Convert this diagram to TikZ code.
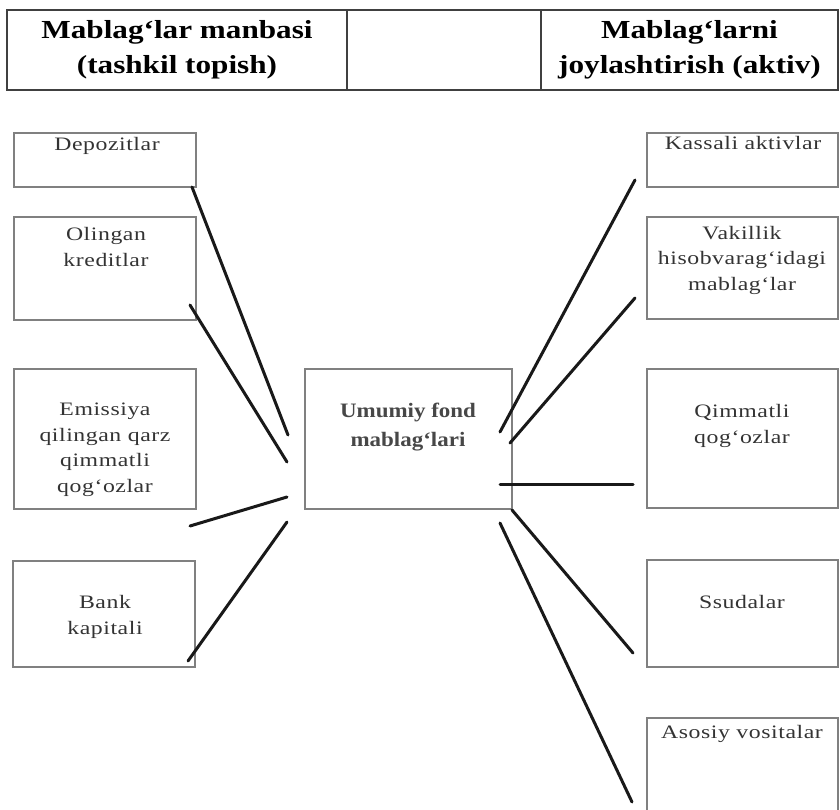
\documentclass[tikz,border=0pt]{standalone}
\usepackage{fontspec}
\usetikzlibrary{calc}
\setmainfont{Liberation Serif}
\newfontfamily\boxfont{Liberation Serif}[FakeStretch=1.25,LetterSpace=3]
\newfontfamily\hdfont{Liberation Serif}[FakeStretch=1.2]
\newfontfamily\midfont{Liberation Serif}[FakeStretch=1.12]

\begin{document}
\begin{tikzpicture}[x=1pt,y=-1pt,
  hcell/.style={draw=black!75, line width=1.5pt, inner sep=0pt, outer sep=0pt,
    align=center, text=black, font={\hdfont\bfseries\fontsize{26}{35}\selectfont}},
  panel/.style={draw=black!50, line width=1.1pt, inner sep=0pt, outer sep=0pt},
  lbl/.style={align=center, text=black!80, inner sep=0pt,
    font={\boxfont\fontsize{19}{25.5}\selectfont}},
  midlbl/.style={align=center, text=black!72, inner sep=0pt,
    font={\midfont\bfseries\fontsize{20.5}{29}\selectfont}},
  link/.style={draw=black!90, line width=3pt, line cap=round}]

\useasboundingbox (0,0) rectangle (840,809);

% header row
\node[hcell, minimum width=340pt, minimum height=80pt] (hA) at (177,50)
  {Mablag‘lar manbasi\\(tashkil topish)};
\node[hcell, minimum width=194pt, minimum height=80pt] (hB) at (444,50) {};
\node[hcell, minimum width=297pt, minimum height=80pt] (hC) at (689.5,50)
  {Mablag‘larni\\joylashtirish (aktiv)};

% sources (left column)
\node[panel, minimum width=182pt, minimum height=54pt]  (dep)  at (105,160) {};
\node[panel, minimum width=182pt, minimum height=103pt] (olg)  at (105,268.5) {};
\node[panel, minimum width=182pt, minimum height=140pt] (emi)  at (105,439) {};
\node[panel, minimum width=182pt, minimum height=106pt] (bank) at (104,614) {};

\node[lbl] (depT)  at (107,146) {Depozitlar};
\node[lbl] (olgT)  at (106,247) {Olingan\\kreditlar};
\node[lbl] (emiT)  at (105,450) {Emissiya\\qilingan qarz\\qimmatli\\qog‘ozlar};
\node[lbl] (bankT) at (105,617) {Bank\\kapitali};

% pooled funds (centre)
\node[panel, minimum width=207pt, minimum height=140pt] (mid) at (408.5,439) {};
\node[midlbl] (midT) at (408,427) {Umumiy fond\\mablag‘lari};

% placements (right column)
\node[panel, minimum width=191pt, minimum height=54pt]  (kas) at (742.5,160) {};
\node[panel, minimum width=191pt, minimum height=102pt] (vak) at (742.5,268) {};
\node[panel, minimum width=191pt, minimum height=139pt] (qim) at (742.5,438.5) {};
\node[panel, minimum width=191pt, minimum height=107pt] (ssu) at (742.5,613.5) {};
\node[panel, minimum width=191pt, minimum height=94pt]  (aso) at (742.5,765) {};

\node[lbl] (kasT) at (743,143) {Kassali aktivlar};
\node[lbl] (vakT) at (742,260) {Vakillik\\hisobvarag‘idagi\\mablag‘lar};
\node[lbl] (qimT) at (742,426) {Qimmatli\\qog‘ozlar};
\node[lbl] (ssuT) at (742,602) {Ssudalar};
\node[lbl] (asoT) at (742,734) {Asosiy vositalar};

% free ends of the connectors beside the centre box
\coordinate (m1) at (288,435);
\coordinate (m2) at (287,462);
\coordinate (m3) at (287,497);
\coordinate (m4) at (287,522);
\coordinate (c1) at (500,432);
\coordinate (c2) at (510,443);
\coordinate (c3) at (500,484);
\coordinate (c4) at (512,510);
\coordinate (c5) at (500,523);

% connectors
\draw[link] ($(dep.south east)+(-4,0)$) -- (m1);
\draw[link] ($(olg.south east)+(-6,-15)$) -- (m2);
\draw[link] ($(emi.south east)+(-6,17)$) -- (m3);
\draw[link] ($(bank.south east)+(-7,-6)$) -- (m4);

\draw[link] (c1) -- ($(kas.south west)+(-12,-7)$);
\draw[link] (c2) -- ($(vak.south west)+(-12,-21)$);
\draw[link] (c3) -- ($(qim.south west)+(-14,-24)$);
\draw[link] (c4) -- ($(ssu.south west)+(-14,-14)$);
\draw[link] (c5) -- ($(aso.north west)+(-15,84)$);

\end{tikzpicture}
\end{document}
